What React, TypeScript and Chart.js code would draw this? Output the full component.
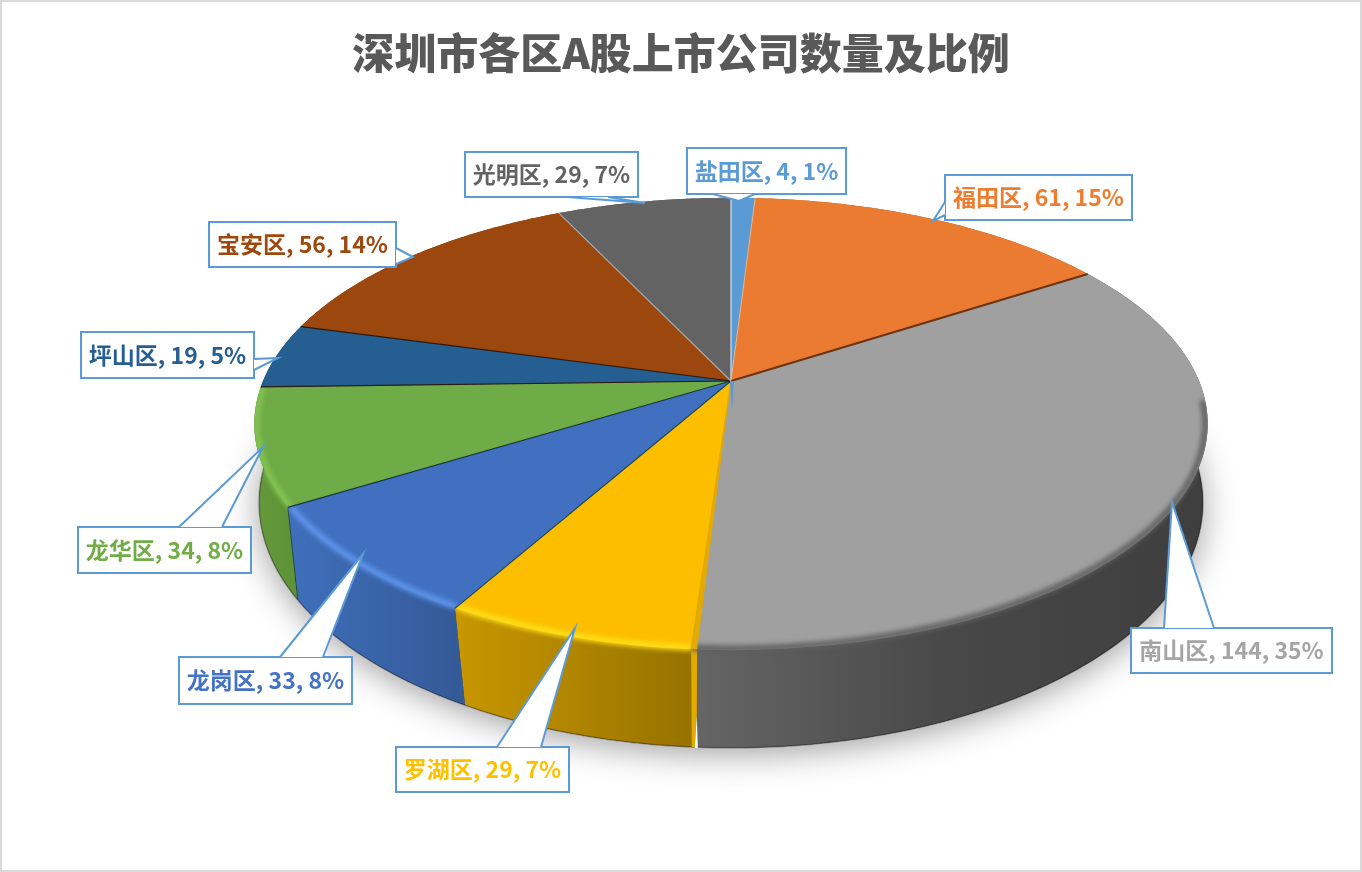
import { useEffect, useRef } from 'react'
import { Chart, registerables } from 'chart.js'

Chart.register(...registerables)

const TITLE = '深圳市各区A股上市公司数量及比例'
const DISTRICTS = ['盐田区', '福田区', '南山区', '罗湖区', '龙岗区', '龙华区', '坪山区', '宝安区', '光明区']
const COMPANIES = [4, 61, 144, 29, 33, 34, 19, 56, 29]

const TOP_COLORS = ['#5b9bd5', '#ea7b30', '#a0a0a0', '#fdbe00', '#4170c0', '#6fab46', '#255e91', '#9c470e', '#636363']
const TEXT_COLORS = ['#5b9bd5', '#ed7d31', '#a5a5a5', '#ffc000', '#4472c4', '#70ad47', '#255e91', '#9e480e', '#636363']
const WALL_STOPS = [
  ['#3f6f9c', '#3f6f9c'],
  ['#a85822', '#a85822'],
  ['#666666', '#484848', '#3e3e3e'],
  ['#c89700', '#977200'],
  ['#3f6fbc', '#355a98'],
  ['#659a3c', '#5f9337'],
  ['#1c476e', '#1c476e'],
  ['#77360b', '#77360b'],
  ['#4a4a4a', '#4a4a4a'],
]
// bevel colour on the front rim, null where the slice has no visible wall
const RIM_COLORS = [null, null, '#5e5e5e', '#ffe11a', '#6097ee', '#84c653', null, null, null]
const EDGE_COLORS = ['#d5e5f4', '#e9b98f', '#6f3310', '#e3aa00', '#1d4a50', '#1a3a40', '#2a1a10', '#2a1a10', '#a9a9a9']

// label box: x, y, w, h, then the pointer as base point, tip, base point
const CALLOUTS = [
  { x: 687, y: 148, w: 159, h: 46, ptr: [[713, 194], [739, 201], [755, 194]] },
  { x: 945, y: 175, w: 187, h: 45, ptr: [[945, 202], [933, 221], [945, 215]] },
  { x: 1131, y: 628, w: 201, h: 45, ptr: [[1164, 628], [1172, 502], [1214, 628]] },
  { x: 396, y: 747, w: 173, h: 45, ptr: [[497, 747], [575, 628], [541, 747]] },
  { x: 179, y: 657, w: 173, h: 47, ptr: [[280, 657], [363, 554], [323, 657]] },
  { x: 78, y: 527, w: 173, h: 46, ptr: [[179, 527], [263, 447], [222, 527]] },
  { x: 81, y: 332, w: 173, h: 46, ptr: [[254, 359], [278, 358], [254, 370]] },
  { x: 209, y: 222, w: 187, h: 45, ptr: [[396, 248], [413, 257], [396, 264]] },
  { x: 465, y: 152, w: 173, h: 45, ptr: [[567, 197], [645, 203], [608, 197]] },
]

// perspective of the disc, the lower ring has its own k
const CX = 731
const TOP_RING = { cy: 381, R: 468, S: 218, k: 0.19 }
const LOW_RING = { cy: 464, R: 466, S: 239, k: 0.158 }
const RIM_START = (5 * Math.PI) / 180

type Ring = typeof TOP_RING

function project(angle: number, ring: Ring, r = 1) {
  const u = Math.cos(angle) * r
  const v = Math.sin(angle) * r
  const w = 1 - ring.k * v
  return { x: CX + (ring.R * u) / w, y: ring.cy + (ring.S * v) / w }
}

function trace(ctx: CanvasRenderingContext2D, a0: number, a1: number, ring: Ring, r = 1, move = false) {
  const steps = Math.max(2, Math.ceil(Math.abs(a1 - a0) * 80))
  for (let i = 0; i <= steps; i++) {
    const p = project(a0 + ((a1 - a0) * i) / steps, ring, r)
    if (i === 0 && move) ctx.moveTo(p.x, p.y)
    else ctx.lineTo(p.x, p.y)
  }
}

function topPath(ctx: CanvasRenderingContext2D, a0: number, a1: number) {
  ctx.beginPath()
  ctx.moveTo(CX, TOP_RING.cy)
  trace(ctx, a0, a1, TOP_RING)
  ctx.closePath()
}

function wallPath(ctx: CanvasRenderingContext2D, a0: number, a1: number) {
  ctx.beginPath()
  trace(ctx, a0, a1, TOP_RING, 1, true)
  trace(ctx, a1, a0, LOW_RING)
  ctx.closePath()
}

const piePlugin = {
  id: 'pie3d',
  beforeDraw(chart: Chart) {
    const { ctx, width, height } = chart
    ctx.save()
    ctx.fillStyle = '#ffffff'
    ctx.fillRect(0, 0, width, height)
    ctx.strokeStyle = '#d9d9d9'
    ctx.lineWidth = 2
    ctx.strokeRect(1, 1, width - 2, height - 2)
    ctx.restore()
  },
  afterDatasetsDraw(chart: Chart) {
    const { ctx } = chart
    const arcs = chart.getDatasetMeta(0).data as any[]
    const total = COMPANIES.reduce((s, v) => s + v, 0)
    ctx.save()

    // soft shadow below the disc
    ctx.save()
    ctx.shadowColor = 'rgba(0,0,0,0.38)'
    ctx.shadowBlur = 34
    ctx.shadowOffsetY = 6
    ctx.fillStyle = '#555555'
    ctx.beginPath()
    trace(ctx, 0, Math.PI * 2, LOW_RING, 1, true)
    ctx.closePath()
    ctx.fill()
    ctx.restore()

    // walls
    arcs.forEach((arc, i) => {
      const a0 = arc.startAngle
      const a1 = arc.endAngle
      const xs: number[] = []
      for (let t = 0; t <= 20; t++) xs.push(project(a0 + ((a1 - a0) * t) / 20, TOP_RING).x)
      const g = ctx.createLinearGradient(Math.min(...xs), 0, Math.max(...xs), 0)
      WALL_STOPS[i].forEach((c, j) => g.addColorStop(j / (WALL_STOPS[i].length - 1), c))
      wallPath(ctx, a0, a1)
      ctx.fillStyle = g
      ctx.fill()
      ctx.beginPath()
      trace(ctx, a0, a1, LOW_RING, 1, true)
      ctx.strokeStyle = 'rgba(0,0,0,0.3)'
      ctx.lineWidth = 1.5
      ctx.stroke()
    })

    // seam between the green and the blue wall
    const seam = arcs[4].endAngle
    ctx.beginPath()
    const s0 = project(seam, TOP_RING)
    const s1 = project(seam, LOW_RING)
    ctx.moveTo(s0.x, s0.y)
    ctx.lineTo(s1.x, s1.y)
    ctx.strokeStyle = 'rgba(20,50,60,0.7)'
    ctx.lineWidth = 1
    ctx.stroke()

    // cut face of the yellow slice, next to the grey one
    const faceAngle = arcs[3].startAngle
    const P = project(faceAngle, TOP_RING)
    const Q = project(faceAngle, LOW_RING)
    ctx.fillStyle = '#e3aa00'
    ctx.beginPath()
    ctx.moveTo(P.x, P.y)
    ctx.lineTo(Q.x - 1, Q.y)
    ctx.lineTo(Q.x + 2, Q.y)
    ctx.lineTo(Q.x + 4, Q.y - 32)
    ctx.lineTo(P.x + 6, P.y)
    ctx.closePath()
    ctx.fill()
    ctx.fillStyle = '#ffffff'
    ctx.beginPath()
    ctx.moveTo(Q.x + 2, Q.y + 1)
    ctx.lineTo(Q.x + 4, Q.y - 32)
    ctx.lineTo(Q.x + 5, Q.y + 1)
    ctx.closePath()
    ctx.fill()

    // top faces
    arcs.forEach((arc, i) => {
      topPath(ctx, arc.startAngle, arc.endAngle)
      ctx.fillStyle = TOP_COLORS[i]
      ctx.fill()
    })

    // bevel along the front rim
    arcs.forEach((arc, i) => {
      const color = RIM_COLORS[i]
      if (!color) return
      const a0 = Math.max(arc.startAngle, RIM_START)
      ctx.save()
      ctx.beginPath()
      trace(ctx, arc.startAngle, arc.endAngle, TOP_RING, 1, true)
      trace(ctx, arc.endAngle, arc.startAngle, LOW_RING)
      ctx.closePath()
      ctx.moveTo(CX, TOP_RING.cy)
      trace(ctx, arc.startAngle, arc.endAngle, TOP_RING)
      ctx.closePath()
      ctx.clip('nonzero')
      ctx.filter = 'blur(2.5px)'
      ctx.beginPath()
      trace(ctx, a0, arc.endAngle, TOP_RING, 0.995, true)
      ctx.strokeStyle = color
      ctx.lineWidth = 6
      ctx.stroke()
      ctx.restore()
    })

    // thin radial edges
    arcs.forEach((arc, i) => {
      const p = project(arc.startAngle, TOP_RING)
      ctx.beginPath()
      ctx.moveTo(CX, TOP_RING.cy)
      ctx.lineTo(p.x, p.y)
      ctx.strokeStyle = EDGE_COLORS[i]
      ctx.lineWidth = i === 1 ? 1 : i === 2 ? 2 : 1.2
      ctx.stroke()
    })

    // yellow strip running from the rim back to the centre
    ctx.fillStyle = '#e3aa00'
    ctx.beginPath()
    ctx.moveTo(CX, TOP_RING.cy)
    ctx.lineTo(P.x, P.y)
    ctx.lineTo(P.x + 6, P.y)
    ctx.closePath()
    ctx.fill()

    // the small tail of the blue slice under the centre
    ctx.fillStyle = TOP_COLORS[0]
    ctx.beginPath()
    ctx.moveTo(CX - 1, TOP_RING.cy)
    ctx.lineTo(CX + 3, TOP_RING.cy)
    ctx.lineTo(CX + 1, TOP_RING.cy + 30)
    ctx.closePath()
    ctx.fill()

    // callouts
    ctx.font = "bold 23px 'Noto Sans CJK SC', 'Noto Sans', sans-serif"
    ctx.textAlign = 'center'
    ctx.textBaseline = 'middle'
    CALLOUTS.forEach((c, i) => {
      const [a, tip, b] = c.ptr
      ctx.strokeStyle = '#5b9bd5'
      ctx.lineWidth = 2
      ctx.fillStyle = '#ffffff'
      ctx.beginPath()
      ctx.rect(c.x, c.y, c.w, c.h)
      ctx.fill()
      ctx.stroke()
      ctx.beginPath()
      ctx.moveTo(a[0], a[1])
      ctx.lineTo(tip[0], tip[1])
      ctx.lineTo(b[0], b[1])
      ctx.closePath()
      ctx.fill()
      ctx.beginPath()
      ctx.moveTo(a[0], a[1])
      ctx.lineTo(tip[0], tip[1])
      ctx.lineTo(b[0], b[1])
      ctx.stroke()
      const pct = Math.round((COMPANIES[i] / total) * 100)
      ctx.fillStyle = TEXT_COLORS[i]
      ctx.fillText(`${DISTRICTS[i]}, ${COMPANIES[i]}, ${pct}%`, c.x + c.w / 2, c.y + c.h / 2)
    })
    ctx.restore()
  },
}

export default function App() {
  const ref = useRef<HTMLCanvasElement>(null)

  useEffect(() => {
    if (!ref.current) return
    document.body.style.margin = '0'
    const chart = new Chart(ref.current, {
      type: 'pie',
      data: {
        labels: DISTRICTS,
        datasets: [{ data: COMPANIES, backgroundColor: 'transparent', borderWidth: 0 }],
      },
      options: {
        responsive: false,
        animation: false,
        devicePixelRatio: 1,
        plugins: {
          legend: { display: false },
          tooltip: { enabled: false },
          title: {
            display: true,
            text: TITLE,
            color: '#595959',
            font: { family: "'Noto Sans CJK SC', sans-serif", size: 42, weight: '900' },
            padding: { top: 28, bottom: 10 },
          },
        },
      },
      plugins: [piePlugin],
    } as any)
    return () => chart.destroy()
  }, [])

  return <canvas ref={ref} width={1362} height={872} style={{ display: 'block' }} />
}
